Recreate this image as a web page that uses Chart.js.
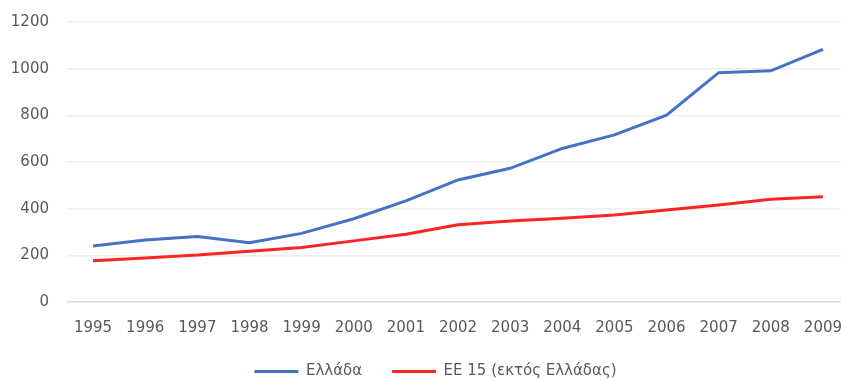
<!DOCTYPE html>
<html>
<head>
<meta charset="utf-8">
<script src="https://cdn.jsdelivr.net/npm/chart.js@4"></script>
<style>
  html, body { margin: 0; padding: 0; background: #fff; overflow: hidden; width: 841px; height: 381px; }
  canvas { display: block; }
</style>
</head>
<body>
<canvas id="chart" width="849" height="381"></canvas>
<script>
// ---- data ----
const years = ['1995', '1996', '1997', '1998', '1999', '2000', '2001', '2002',
  '2003', '2004', '2005', '2006', '2007', '2008', '2009'];
const greece = [240, 266, 281, 254, 294, 357, 433, 523, 573, 658, 716, 801, 983, 991, 1083];
const eu15 = [177, 189, 201, 218, 234, 262, 290, 331, 347, 359, 373, 394, 416, 440, 451];
const seriesNames = ['Ελλάδα', 'ΕΕ 15 (εκτός Ελλάδας)'];
const yTicks = [0, 200, 400, 600, 800, 1000, 1200];

const FONT = "'DejaVu Sans', Verdana, sans-serif";
const TEXT = '#595959';

// nudge the legend a little to the right, like the original
const legendShift = {
  id: 'legendShift',
  afterLayout(chart) {
    if (chart.legend) {
      chart.legend.left += 11;
      chart.legend.right += 11;
    }
  },
};

const ctx = document.getElementById('chart').getContext('2d');
new Chart(ctx, {
  type: 'line',
  plugins: [legendShift],
  data: {
    labels: years,
    datasets: [
      {
        label: seriesNames[0],
        data: greece,
        borderColor: '#4472C4',
        backgroundColor: '#4472C4',
        borderWidth: 3,
        pointRadius: 0,
        tension: 0,
      },
      {
        label: seriesNames[1],
        data: eu15,
        borderColor: '#FF2424',
        backgroundColor: '#FF2424',
        borderWidth: 3,
        pointRadius: 0,
        tension: 0,
      },
    ],
  },
  options: {
    responsive: false,
    animation: false,
    layout: { padding: { top: 22, right: 0, left: 0, bottom: -8 } },
    plugins: {
      tooltip: { enabled: false },
      legend: {
        position: 'bottom',
        labels: {
          usePointStyle: true,
          pointStyle: 'line',
          pointStyleWidth: 44,
          padding: 30,
          color: TEXT,
          font: { family: FONT, size: 15 },
        },
      },
    },
    scales: {
      x: {
        offset: true,
        grid: { display: false, drawTicks: false },
        border: { display: false },
        ticks: {
          color: TEXT,
          font: { family: FONT, size: 15 },
          padding: 17,
          maxRotation: 0,
          autoSkip: false,
        },
        afterFit: (scale) => {
          scale.height = 32;
          scale.paddingLeft = 0;
          scale.paddingRight = 0;
        },
      },
      y: {
        min: yTicks[0],
        max: yTicks[yTicks.length - 1],
        afterBuildTicks: (scale) => { scale.ticks = yTicks.map(v => ({ value: v })); },
        grid: {
          drawTicks: false,
          lineWidth: 1.5,
          color: (c) => (c.tick && c.tick.value === 0 ? '#D9D9D9' : '#EEEEEE'),
        },
        border: { display: false },
        ticks: {
          color: TEXT,
          font: { family: FONT, size: 15 },
          padding: 18,
          callback: (v) => String(v),
        },
        afterFit: (scale) => {
          scale.width = 67;
          scale.paddingTop = 0;
          scale.paddingBottom = 0;
        },
      },
    },
  },
});
</script>
</body>
</html>
